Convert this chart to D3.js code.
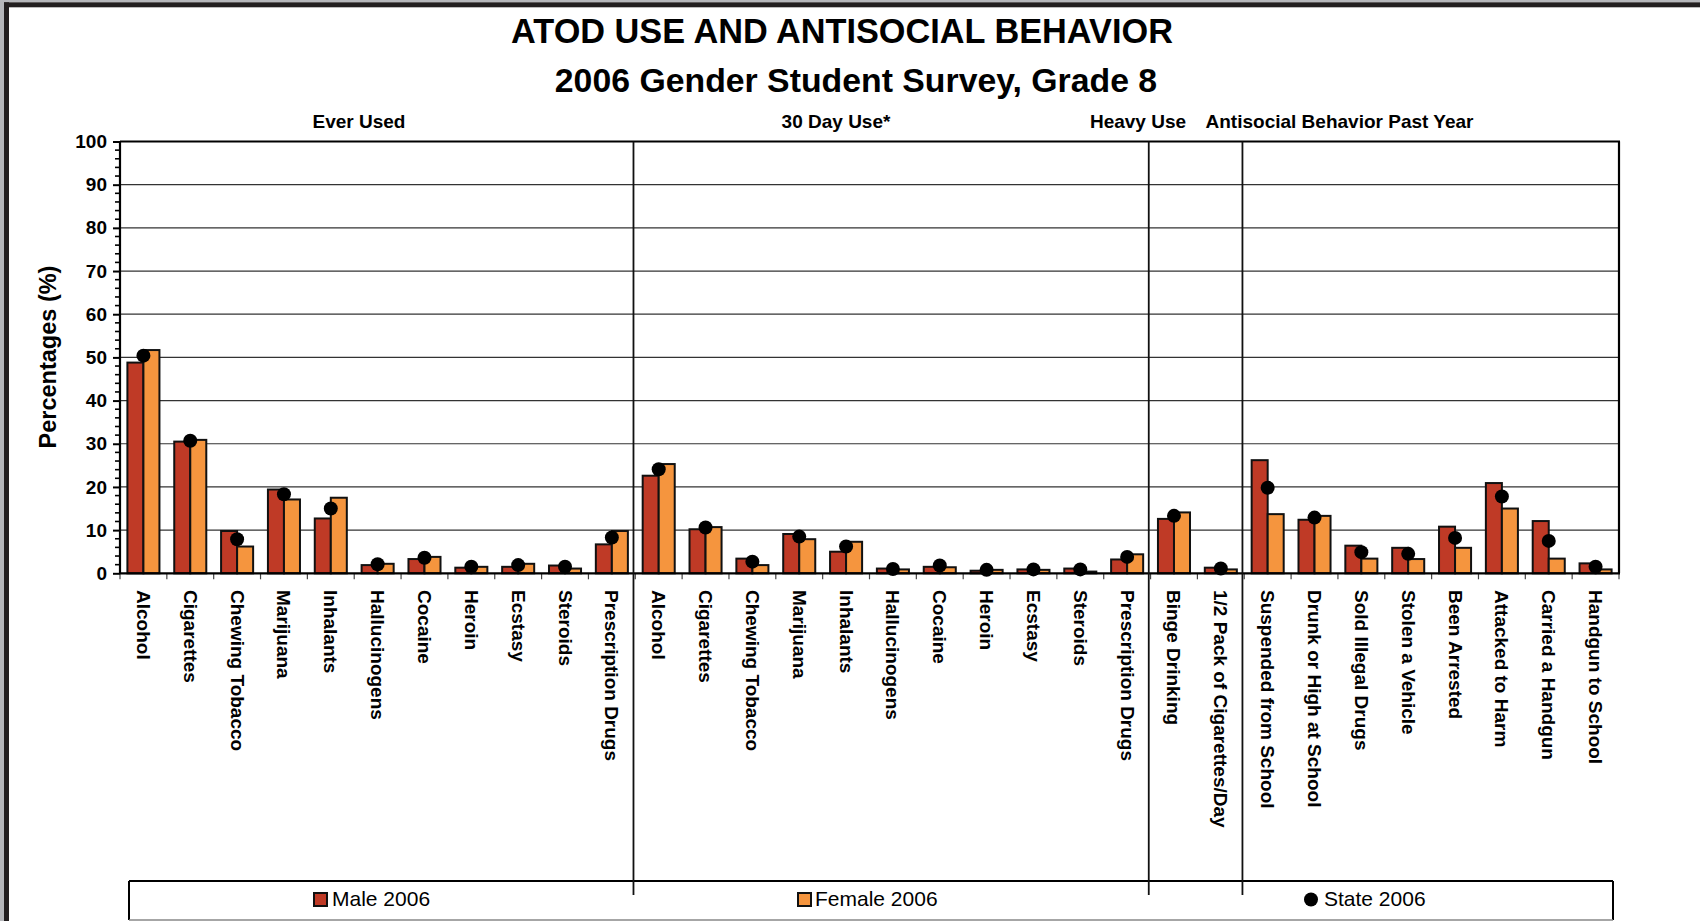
<!DOCTYPE html>
<html>
<head>
<meta charset="utf-8">
<script src="https://cdn.jsdelivr.net/npm/d3@7"></script>
<style>
  html, body { margin: 0; padding: 0; background: #fff; }
  svg { display: block; font-family: "Liberation Sans", Arial, sans-serif; }
</style>
</head>
<body>
<svg id="chart" width="1700" height="921"></svg>
<script>
// ---------- DATA ----------
const categories = [
  "Alcohol","Cigarettes","Chewing Tobacco","Marijuana","Inhalants","Hallucinogens","Cocaine","Heroin","Ecstasy","Steroids","Prescription Drugs",
  "Alcohol","Cigarettes","Chewing Tobacco","Marijuana","Inhalants","Hallucinogens","Cocaine","Heroin","Ecstasy","Steroids","Prescription Drugs",
  "Binge Drinking","1/2 Pack of Cigarettes/Day",
  "Suspended from School","Drunk or High at School","Sold Illegal Drugs","Stolen a Vehicle","Been Arrested","Attacked to Harm","Carried a Handgun","Handgun to School"
];
const male2006 = [48.8,30.5,9.8,19.4,12.7,1.9,3.3,1.3,1.5,1.8,6.7,
                  22.6,10.2,3.4,9.1,5.0,1.1,1.5,0.6,0.9,1.1,3.2,
                  12.6,1.3,
                  26.2,12.4,6.4,5.9,10.8,20.9,12.1,2.3];
const female2006 = [51.7,30.9,6.2,17.1,17.5,2.2,3.8,1.5,2.2,1.1,9.8,
                    25.3,10.7,1.9,7.9,7.3,0.9,1.4,0.8,0.8,0.4,4.4,
                    14.1,0.9,
                    13.7,13.3,3.4,3.3,5.9,15.0,3.4,0.9];
const state2006 = [50.4,30.7,7.9,18.3,15.0,2.1,3.6,1.5,1.9,1.5,8.3,
                   24.1,10.6,2.7,8.5,6.2,1.0,1.8,0.8,0.9,0.9,3.8,
                   13.3,1.1,
                   19.8,12.9,4.9,4.5,8.2,17.8,7.5,1.5];
const sectionNames = ["Ever Used","30 Day Use*","Heavy Use","Antisocial Behavior Past Year"];
const sectionSizes = [11, 11, 2, 8];
const yTicks = [0,10,20,30,40,50,60,70,80,90,100];
const seriesNames = ["Male 2006","Female 2006","State 2006"];

// ---------- LAYOUT ----------
const svg = d3.select("#chart");
const plot = {left: 120, right: 1619, top: 141.5, bottom: 573.3};
const maleColor = "#BF3A26", femaleColor = "#F5953E";

// outer frame
svg.append("rect").attr("x",0).attr("y",0).attr("width",4).attr("height",921).attr("fill","#b6b7bb");
svg.append("rect").attr("x",0).attr("y",0).attr("width",1700).attr("height",2.3).attr("fill","#b6b7bb");
svg.append("rect").attr("x",4).attr("y",2.3).attr("width",5).attr("height",921).attr("fill","#231f20");
svg.append("rect").attr("x",4).attr("y",2.3).attr("width",1696).attr("height",5).attr("fill","#231f20");

const idx = d3.range(categories.length);
const x = d3.scaleBand().domain(idx).range([plot.left, plot.right]).padding(0);
const y = d3.scaleLinear().domain([0,100]).range([plot.bottom, plot.top]);
const bw = x.bandwidth();
const inner = bw * 0.684;
const barW = inner / 2;
const off = (bw - inner) / 2;

// titles
svg.append("text").attr("x",842).attr("y",43).attr("text-anchor","middle")
  .attr("font-size",34.3).attr("font-weight","bold").text("ATOD USE AND ANTISOCIAL BEHAVIOR");
svg.append("text").attr("x",856).attr("y",92).attr("text-anchor","middle")
  .attr("font-size",33.8).attr("font-weight","bold").text("2006 Gender Student Survey, Grade 8");

// section headers
const headerX = [359, 836, 1138, 1339.5];
sectionNames.forEach((s,i) => {
  svg.append("text").attr("x",headerX[i]).attr("y",128).attr("text-anchor","middle")
    .attr("font-size",19).attr("font-weight","bold").text(s);
});

// gridlines
svg.append("g").selectAll("line").data(yTicks.filter(t => t>0 && t<100)).join("line")
  .attr("x1",plot.left).attr("x2",plot.right)
  .attr("y1",d=>y(d)).attr("y2",d=>y(d))
  .attr("stroke","#333").attr("stroke-width",1.2);

// y axis
const yAxis = d3.axisLeft(y).tickValues(yTicks).tickSize(7).tickPadding(6);
const gy = svg.append("g").attr("transform",`translate(${plot.left},0)`).call(yAxis);
gy.select(".domain").remove();
gy.selectAll(".tick line").attr("stroke","#000").attr("stroke-width",2);
gy.selectAll(".tick text").attr("font-size",19).attr("font-weight","bold").attr("fill","#000")
  .attr("font-family","Liberation Sans, Arial, sans-serif");
// minor ticks
svg.append("g").selectAll("line").data(d3.range(0,101,2).filter(v => v%10!==0)).join("line")
  .attr("x1",plot.left-5).attr("x2",plot.left)
  .attr("y1",d=>y(d)).attr("y2",d=>y(d))
  .attr("stroke","#000").attr("stroke-width",1.6);

// y title
svg.append("text").attr("transform","translate(48,357) rotate(-90)")
  .attr("text-anchor","middle").attr("dominant-baseline","central")
  .attr("font-size",23.5).attr("font-weight","bold").text("Percentages (%)");

// bars
const gBars = svg.append("g");
gBars.selectAll("rect.m").data(idx).join("rect").attr("class","m")
  .attr("x",i => x(i)+off).attr("width",barW)
  .attr("y",i => y(male2006[i])).attr("height",i => y(0)-y(male2006[i]))
  .attr("fill",maleColor).attr("stroke","#111").attr("stroke-width",2);
gBars.selectAll("rect.f").data(idx).join("rect").attr("class","f")
  .attr("x",i => x(i)+off+barW).attr("width",barW)
  .attr("y",i => y(female2006[i])).attr("height",i => y(0)-y(female2006[i]))
  .attr("fill",femaleColor).attr("stroke","#111").attr("stroke-width",2);

// plot border (top, right)
svg.append("line").attr("x1",plot.left).attr("x2",plot.right+1).attr("y1",plot.top).attr("y2",plot.top)
  .attr("stroke","#000").attr("stroke-width",2.2);
svg.append("line").attr("x1",plot.right).attr("x2",plot.right).attr("y1",plot.top).attr("y2",plot.bottom)
  .attr("stroke","#000").attr("stroke-width",2.2);

// x axis: band boundary ticks
const bounds = d3.range(categories.length+1).map(i => plot.left + i*bw);
svg.append("g").selectAll("line").data(bounds).join("line")
  .attr("x1",d=>d).attr("x2",d=>d).attr("y1",plot.bottom).attr("y2",plot.bottom+6)
  .attr("stroke","#444").attr("stroke-width",1.2);
svg.append("line").attr("x1",plot.left-1).attr("x2",plot.right+1).attr("y1",plot.bottom).attr("y2",plot.bottom)
  .attr("stroke","#000").attr("stroke-width",2.2);
svg.append("line").attr("x1",plot.left).attr("x2",plot.left).attr("y1",plot.top).attr("y2",plot.bottom)
  .attr("stroke","#000").attr("stroke-width",2.2);

// x labels
svg.append("g").selectAll("text").data(idx).join("text")
  .attr("transform",i => `translate(${x(i)+bw/2},590) rotate(90)`)
  .attr("dominant-baseline","central")
  .attr("font-size",19).attr("font-weight","bold").text(i => categories[i]);

// legend box
const leg = {x1:129, x2:1613, y1:881, y2:920};
svg.append("line").attr("x1",leg.x1).attr("x2",leg.x2).attr("y1",leg.y1).attr("y2",leg.y1).attr("stroke","#000").attr("stroke-width",2.2);
svg.append("line").attr("x1",leg.x1).attr("x2",leg.x1).attr("y1",leg.y1).attr("y2",leg.y2).attr("stroke","#000").attr("stroke-width",2);
svg.append("line").attr("x1",leg.x2).attr("x2",leg.x2).attr("y1",leg.y1).attr("y2",leg.y2).attr("stroke","#000").attr("stroke-width",2);
svg.append("line").attr("x1",leg.x1).attr("x2",leg.x2).attr("y1",leg.y2).attr("y2",leg.y2).attr("stroke","#888").attr("stroke-width",1.5);

// section dividers
let acc = 0;
const divs = [];
sectionSizes.slice(0,-1).forEach(n => { acc += n; divs.push(plot.left + acc*bw - 1.8); });
svg.append("g").selectAll("line").data(divs).join("line")
  .attr("x1",d=>d).attr("x2",d=>d).attr("y1",plot.top).attr("y2",895)
  .attr("stroke","#111").attr("stroke-width",1.8);

// state dots
svg.append("g").selectAll("circle").data(idx).join("circle")
  .attr("cx",i => x(i)+bw/2).attr("cy",i => y(state2006[i])).attr("r",7)
  .attr("fill","#000");

// legend items
const legItems = [
  {name: seriesNames[0], type:"rect", color: maleColor, mx: 314, tx: 332},
  {name: seriesNames[1], type:"rect", color: femaleColor, mx: 798, tx: 815},
  {name: seriesNames[2], type:"dot", color: "#000", mx: 1311, tx: 1324}
];
legItems.forEach(d => {
  if (d.type === "rect") {
    svg.append("rect").attr("x",d.mx).attr("y",893).attr("width",13).attr("height",13)
      .attr("fill",d.color).attr("stroke","#111").attr("stroke-width",2);
  } else {
    svg.append("circle").attr("cx",d.mx).attr("cy",899.5).attr("r",7).attr("fill","#000");
  }
  svg.append("text").attr("x",d.tx).attr("y",906).attr("font-size",21).text(d.name);
});
</script>
</body>
</html>
